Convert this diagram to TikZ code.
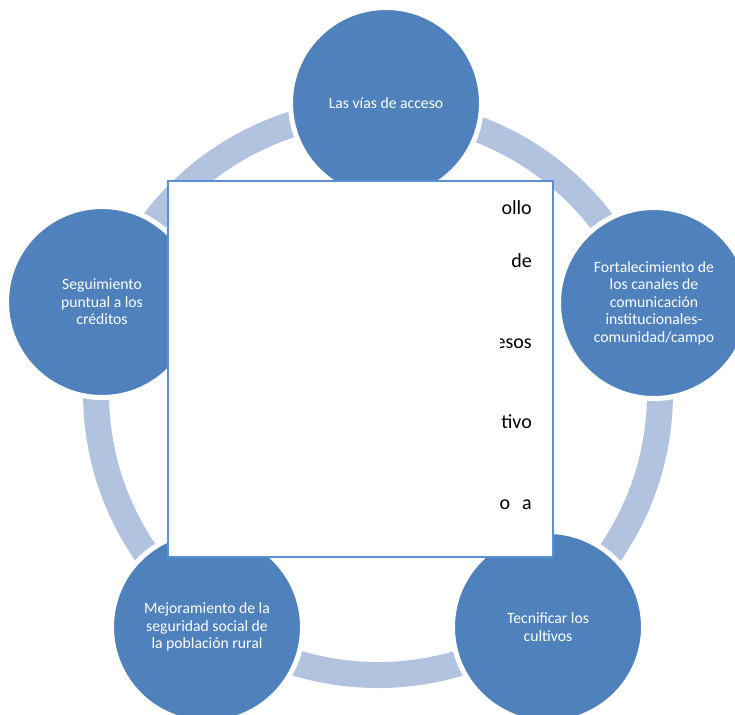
\documentclass[tikz,border=0pt]{standalone}
\usepackage{fontspec}
\setmainfont{Carlito}
\definecolor{circblue}{HTML}{4F81BD}
\definecolor{ringblue}{HTML}{B2C3DF}
\definecolor{boxblue}{HTML}{5A8FD6}
\begin{document}
\begin{tikzpicture}[x=1pt,y=-1pt,
  circ/.style={circle, minimum size=191pt, inner sep=0pt, fill=circblue, draw=white, line width=5pt,
    text=white, align=center, font=\fontsize{15.7}{17.5}\selectfont},
  boxtxt/.style={anchor=base east, inner sep=0pt, font=\fontsize{20}{24}\selectfont, text=black}]
\useasboundingbox (0,0) rectangle (735,714);
% ring
\coordinate (rc) at (378,393);
\draw[ringblue, line width=26pt] (rc) circle[radius=282];
% circles
\node[circ] (top) at (386,103) {Las vías de acceso};
\node[circ] (right) at (654,303) {Fortalecimiento de\\los canales de\\comunicación\\institucionales-\\comunidad/campo};
\node[circ] (bright) at (548,627) {Tecnificar los\\cultivos};
\node[circ] (bleft) at (207,627) {Mejoramiento de la\\seguridad social de\\la población rural};
\node[circ] (left) at (102,302) {Seguimiento\\puntual a los\\créditos};
% box
\draw[boxblue, fill=white, line width=2.5pt] (168,181) rectangle (553,557);
\begin{scope}
\clip (500,185) rectangle (550,550);
\node[boxtxt] (t1) at (532,214) {ollo};
\node[boxtxt] (t2) at (532,267) {de};
\node[boxtxt] (t3) at (532,348) {esos};
\node[boxtxt] (t4) at (532,428) {tivo};
\node[boxtxt] (t5) at (532,509) {o\hspace{12pt}a};
\end{scope}
\end{tikzpicture}
\end{document}
